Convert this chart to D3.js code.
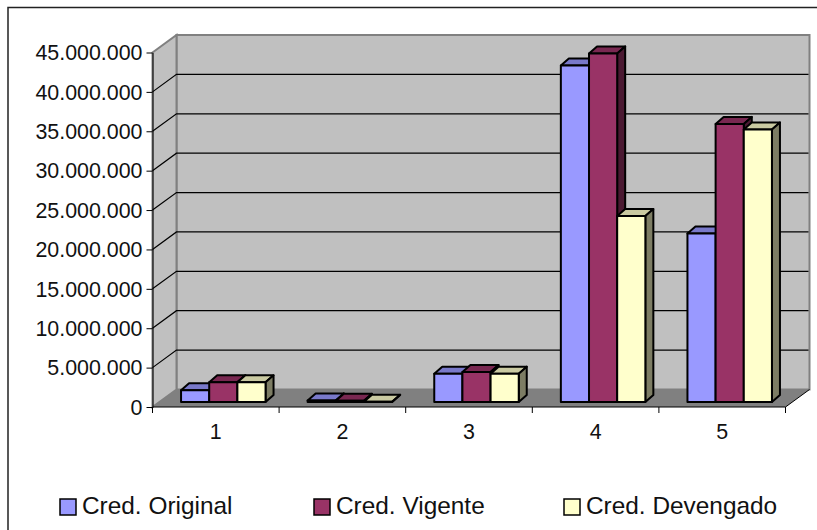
<!DOCTYPE html>
<html>
<head>
<meta charset="utf-8">
<script src="https://cdn.jsdelivr.net/npm/d3@7"></script>
<style>
  html, body { margin: 0; padding: 0; background: #fff; }
  svg { display: block; }
  text { font-family: "Liberation Sans", Arial, sans-serif; fill: #111; }
</style>
</head>
<body>
<div class="container"></div>
<script>
// values
const categories = ["1", "2", "3", "4", "5"];
const credOriginal = [1500000, 200000, 3600000, 42700000, 21400000];
const credVigente = [2500000, 150000, 3800000, 44250000, 35300000];
const credDevengado = [2500000, 30000, 3600000, 23600000, 34600000];
const seriesNames = ["Cred. Original", "Cred. Vigente", "Cred. Devengado"];
const seriesColors = ["#9999FF", "#993366", "#FFFFCC"];
const yTicks = [0, 5000000, 10000000, 15000000, 20000000, 25000000, 30000000, 35000000, 40000000, 45000000];

const seriesValues = [credOriginal, credVigente, credDevengado];

const width = 817, height = 530;

// front plane of the 3d box
const plot = { left: 152.5, right: 785.5, top: 52.5, bottom: 407 };
// depth of the box and of a bar
const depth = { x: 24, y: 17.5 };
const barDepth = { x: 8, y: 7 };
const barInset = { x: 7.5, y: 5 };

const svg = d3.select("div.container").append("svg")
    .attr("width", width)
    .attr("height", height);

// outer frame
svg.append("rect")
    .attr("x", 8).attr("y", 7.5)
    .attr("width", 820).attr("height", 540)
    .attr("fill", "#fff")
    .attr("stroke", "#222")
    .attr("stroke-width", 1.5);

const x = d3.scaleBand().domain(categories).range([plot.left, plot.right]);
const y = d3.scaleLinear().domain([0, 45000000]).range([plot.bottom, plot.top]);
const barX = d3.scaleBand().domain(d3.range(seriesNames.length)).range([0, 84.5]);

const points = (arr) => arr.map((p) => p.join(",")).join(" ");

const wall = svg.append("g");

// back wall
wall.append("polygon")
    .attr("points", points([
        [plot.left + depth.x, plot.top - depth.y],
        [plot.right + depth.x, plot.top - depth.y],
        [plot.right + depth.x, plot.bottom - depth.y],
        [plot.left + depth.x, plot.bottom - depth.y]]))
    .attr("fill", "#C0C0C0")
    .attr("stroke", "#808080")
    .attr("stroke-width", 2);

// left wall
wall.append("polygon")
    .attr("points", points([
        [plot.left, plot.top],
        [plot.left + depth.x, plot.top - depth.y],
        [plot.left + depth.x, plot.bottom - depth.y],
        [plot.left, plot.bottom]]))
    .attr("fill", "#C0C0C0")
    .attr("stroke", "#808080")
    .attr("stroke-width", 2);

// floor
wall.append("polygon")
    .attr("points", points([
        [plot.left, plot.bottom],
        [plot.left + depth.x, plot.bottom - depth.y],
        [plot.right + depth.x, plot.bottom - depth.y],
        [plot.right, plot.bottom]]))
    .attr("fill", "#808080");

// gridlines on walls
const gridTicks = yTicks.filter((d) => d > 0 && d < 45000000);
wall.selectAll("path.grid")
    .data(gridTicks)
    .enter()
    .append("path")
    .attr("class", "grid")
    .attr("fill", "none")
    .attr("stroke", "#000")
    .attr("stroke-width", 1.2)
    .attr("d", (d) => `M${plot.left},${y(d)}L${plot.left + depth.x},${y(d) - depth.y}L${plot.right + depth.x - 1},${y(d) - depth.y}`);

// bars, left to right so the nearer sides overlap correctly
const bars = svg.append("g");
categories.forEach((cat, i) => {
    seriesValues.forEach((values, s) => {
        const c = d3.color(seriesColors[s]);
        const x0 = x(cat) + barInset.x + (x.bandwidth() - barX.range()[1]) / 2 + barX(s);
        const x1 = x0 + barX.bandwidth();
        const y0 = y(0) - barInset.y;
        const y1 = y(values[i]) - barInset.y;
        const g = bars.append("g")
            .attr("stroke", "#000")
            .attr("stroke-width", 2)
            .attr("stroke-linejoin", "round");
        // top
        g.append("polygon")
            .attr("points", points([[x0, y1], [x0 + barDepth.x, y1 - barDepth.y], [x1 + barDepth.x, y1 - barDepth.y], [x1, y1]]))
            .attr("fill", c.darker(0.65));
        // side
        g.append("polygon")
            .attr("points", points([[x1, y1], [x1 + barDepth.x, y1 - barDepth.y], [x1 + barDepth.x, y0 - barDepth.y], [x1, y0]]))
            .attr("fill", c.darker(2));
        // front
        g.append("rect")
            .attr("x", x0).attr("y", y1)
            .attr("width", x1 - x0).attr("height", y0 - y1)
            .attr("fill", seriesColors[s]);
    });
});

// y axis
const fmt = d3.formatLocale({ decimal: ",", thousands: ".", grouping: [3], currency: ["", ""] }).format(",d");
const yAxis = svg.append("g")
    .attr("transform", `translate(${plot.left},0)`)
    .call(d3.axisLeft(y).tickValues(yTicks).tickFormat(fmt).tickSize(6).tickSizeOuter(0).tickPadding(4));
yAxis.selectAll("text").style("font-size", "21.4px").attr("dy", "0.34em");
yAxis.selectAll("line,path").attr("stroke", "#000");

// x axis
const xAxis = svg.append("g")
    .attr("transform", `translate(0,${plot.bottom})`)
    .call(d3.axisBottom(x).tickSize(0).tickPadding(17));
xAxis.selectAll("text").style("font-size", "21.4px");
xAxis.selectAll("line").remove();
xAxis.select("path.domain").attr("stroke", "#000").attr("d", `M${plot.left},0H${plot.right}`);
xAxis.selectAll("line.bound")
    .data(categories.map((c) => x(c)).concat(plot.right))
    .enter()
    .append("line")
    .attr("class", "bound")
    .attr("x1", (d) => d).attr("x2", (d) => d)
    .attr("y1", 0).attr("y2", 6)
    .attr("stroke", "#000");

// closing edge of the floor on the right
svg.append("line")
    .attr("x1", plot.right).attr("y1", plot.bottom)
    .attr("x2", plot.right + depth.x).attr("y2", plot.bottom - depth.y)
    .attr("stroke", "#000");

// legend
const legendX = [60, 314, 564];
const legend = svg.selectAll("g.legend")
    .data(seriesNames)
    .enter()
    .append("g")
    .attr("class", "legend")
    .attr("transform", (d, i) => `translate(${legendX[i]},499)`);
legend.append("rect")
    .attr("width", 16).attr("height", 16)
    .attr("fill", (d, i) => seriesColors[i])
    .attr("stroke", "#000")
    .attr("stroke-width", 1.5);
legend.append("text")
    .attr("x", 22).attr("y", 15)
    .style("font-size", "24.4px")
    .text((d) => d);
</script>
</body>
</html>
